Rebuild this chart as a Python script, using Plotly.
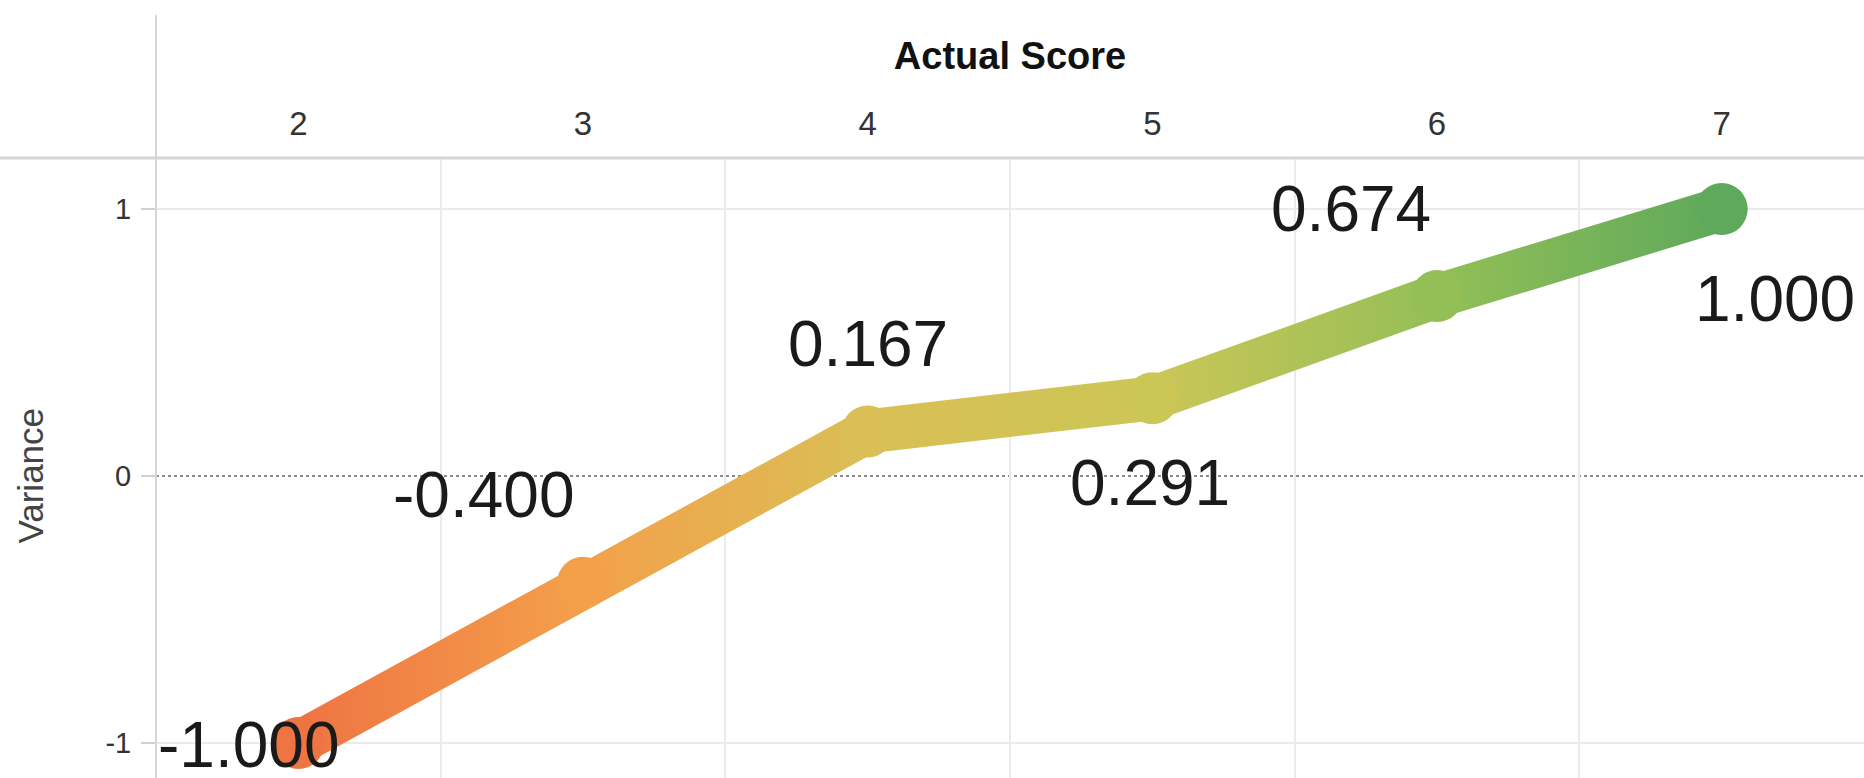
import plotly.graph_objects as go
from plotly.colors import sample_colorscale

# Actual score vs. variance
scores = [2, 3, 4, 5, 6, 7]
variance = [-1.000, -0.400, 0.167, 0.291, 0.674, 1.000]
score_ticks = [2, 3, 4, 5, 6, 7]
variance_ticks = [-1, 0, 1]

# label placement (pixel offsets from each point)
label_dx = [-50, -100, 0, -2, -86, 53]
label_dy = [-2, 88, 87, -85, 87, -90]

FONT = "Arial, Liberation Sans, sans-serif"
W, H = 1864, 778
ML, MT = 156, 158

# diverging orange -> gold -> green scale keyed on variance (-1..1)
SCALE = [
    [0.0, "#EE7443"],
    [0.30, "#F4A04B"],
    [0.55, "#E0BC55"],
    [0.65, "#CBC657"],
    [0.84, "#93BF57"],
    [1.0, "#5EA95B"],
]
point_colors = sample_colorscale(SCALE, [(v + 1) / 2 for v in variance])

fig = go.Figure()
fig.add_trace(
    go.Scatter(
        x=scores,
        y=variance,
        mode="lines+markers",
        line=dict(width=44, color=point_colors[0]),
        marker=dict(size=52, color=variance, colorscale=SCALE, cmin=-1, cmax=1,
                    line=dict(width=0)),
        hoverinfo="x+y",
        showlegend=False,
        cliponaxis=False,
    )
)

for x, v, dx, dy in zip(scores, variance, label_dx, label_dy):
    fig.add_annotation(
        x=x, y=v, text=f"{v:.3f}", showarrow=False,
        xshift=dx, yshift=dy,
        font=dict(family=FONT, size=64, color="#1a1a1a"),
    )

# y-axis title
fig.add_annotation(
    xref="paper", yref="y", x=(30 - ML) / (W - ML), y=0, xshift=-21,
    text="Variance", textangle=-90, showarrow=False,
    font=dict(family=FONT, size=35, color="#444444"),
)

# header dividers and zero reference line
fig.add_shape(type="line", xref="paper", yref="paper",
              x0=-ML / (W - ML), x1=1, y0=1, y1=1,
              line=dict(color="#D6D6D6", width=3), layer="above")
fig.add_shape(type="line", xref="paper", yref="paper",
              x0=0, x1=0, y0=0, y1=1 + (MT - 15) / (H - MT),
              line=dict(color="#D6D6D6", width=2), layer="above")
fig.add_shape(type="line", xref="paper", yref="y",
              x0=0, x1=1, y0=0, y1=0,
              line=dict(color="#8A8A8A", width=2, dash="dot"), layer="below")

fig.update_layout(
    width=W, height=H,
    margin=dict(l=ML, r=0, t=MT, b=0, pad=0),
    paper_bgcolor="white", plot_bgcolor="white",
    font=dict(family=FONT, color="#333333"),
    xaxis=dict(
        side="top", range=[1.5, 7.5],
        tickvals=score_ticks, ticktext=[str(s) for s in score_ticks],
        ticks="", showgrid=False, zeroline=False, showline=False,
        tickfont=dict(size=33, color="#333333"),
        ticklabelstandoff=15,
        title=dict(text="<b>Actual Score</b>", standoff=24,
                   font=dict(size=38, color="#111111")),
        minor=dict(tickvals=[s + 0.5 for s in score_ticks[:-1]], showgrid=True,
                   gridcolor="#EBEBEB", gridwidth=2, ticks=""),
    ),
    yaxis=dict(
        range=[-1.131, 1.191],
        tickvals=variance_ticks, ticktext=[str(t) for t in variance_ticks],
        ticks="outside", ticklen=14, tickcolor="#D0D0D0", tickwidth=2,
        showgrid=False, zeroline=False, showline=False,
        tickfont=dict(size=29, color="#333333"),
        ticklabelstandoff=4,
        minor=dict(tickvals=[-1, 1], showgrid=True, gridcolor="#EBEBEB",
                   gridwidth=2, ticks=""),
    ),
)

# horizontal gradient along the line, stops at each point's colour
stops = ",".join(
    f"[{i / (len(scores) - 1):.4f},'{c}']" for i, c in enumerate(point_colors)
)
post_js = """
var gd = document.getElementById('{plot_id}');
var stops = [%s];
function applyGrad() {
  var svg = gd.querySelector('svg.main-svg');
  if (!svg) return;
  var ns = 'http://www.w3.org/2000/svg';
  var defs = svg.querySelector('defs');
  if (!defs) { defs = document.createElementNS(ns, 'defs'); svg.insertBefore(defs, svg.firstChild); }
  var old = document.getElementById('scoreGrad');
  if (old) old.parentNode.removeChild(old);
  var lg = document.createElementNS(ns, 'linearGradient');
  lg.setAttribute('id', 'scoreGrad');
  lg.setAttribute('x1', '0'); lg.setAttribute('y1', '0');
  lg.setAttribute('x2', '1'); lg.setAttribute('y2', '0');
  stops.forEach(function (s) {
    var st = document.createElementNS(ns, 'stop');
    st.setAttribute('offset', s[0]);
    st.setAttribute('stop-color', s[1]);
    lg.appendChild(st);
  });
  defs.appendChild(lg);
  gd.querySelectorAll('.scatterlayer path.js-line').forEach(function (p) {
    p.style.stroke = 'url(#scoreGrad)';
    p.style.strokeLinejoin = 'round';
  });
}
applyGrad();
gd.on('plotly_afterplot', applyGrad);
""" % stops

fig.write_html("out.html", post_script=post_js)
